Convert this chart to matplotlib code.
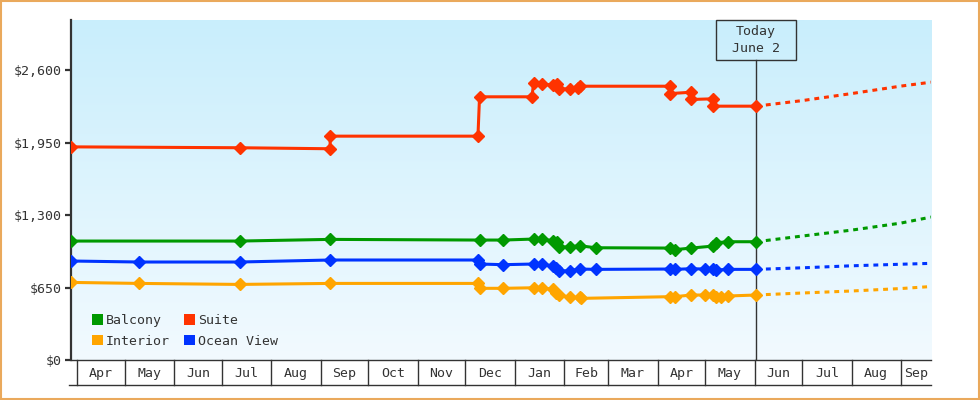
import matplotlib
matplotlib.use("Agg")
import matplotlib.pyplot as plt
import matplotlib.dates as mdates
from matplotlib.colors import LinearSegmentedColormap
from matplotlib.patches import Patch, Rectangle
import numpy as np
import pandas as pd

plt.rcParams['font.family'] = ['DejaVu Sans Mono']
plt.rcParams['font.size'] = 9.5
txt = '#333333'

# price history, one list of dates and prices per cabin type
suite_dates = ['2022-03-28', '2022-07-12', '2022-09-07', '2022-09-07', '2022-12-09', '2022-12-10',
               '2023-01-12', '2023-01-13', '2023-01-18', '2023-01-25', '2023-01-28', '2023-01-29',
               '2023-02-05', '2023-02-10', '2023-02-11', '2023-04-09', '2023-04-09', '2023-04-22',
               '2023-04-22', '2023-05-06', '2023-05-06', '2023-06-02']
suite_prices = [1912, 1904, 1895, 2008, 2008, 2361,
                2361, 2486, 2474, 2468, 2474, 2432,
                2432, 2438, 2456, 2456, 2390, 2402,
                2337, 2343, 2277, 2277]

balcony_dates = ['2022-03-28', '2022-07-12', '2022-09-07', '2022-12-10', '2022-12-25', '2023-01-13',
                 '2023-01-18', '2023-01-25', '2023-01-28', '2023-01-29', '2023-02-05', '2023-02-11',
                 '2023-02-21', '2023-04-09', '2023-04-12', '2023-04-22', '2023-05-06', '2023-05-08',
                 '2023-05-15', '2023-06-02']
balcony_prices = [1067, 1067, 1082, 1076, 1076, 1085,
                  1085, 1070, 1061, 1011, 1016, 1025,
                  1007, 1004, 990, 1004, 1022, 1052,
                  1061, 1061]

ocean_dates = ['2022-03-28', '2022-05-10', '2022-07-12', '2022-09-07', '2022-12-09', '2022-12-10',
               '2022-12-25', '2023-01-13', '2023-01-18', '2023-01-25', '2023-01-27', '2023-01-29',
               '2023-02-05', '2023-02-11', '2023-02-21', '2023-04-09', '2023-04-12', '2023-04-22',
               '2023-05-01', '2023-05-06', '2023-05-08', '2023-05-15', '2023-06-02']
ocean_prices = [888, 879, 879, 897, 897, 861,
                855, 861, 861, 843, 822, 798,
                801, 816, 813, 816, 813, 819,
                816, 816, 807, 813, 813]

interior_dates = ['2022-03-28', '2022-05-10', '2022-07-12', '2022-09-07', '2022-12-09', '2022-12-10',
                  '2022-12-25', '2023-01-13', '2023-01-18', '2023-01-25', '2023-01-27', '2023-01-29',
                  '2023-02-05', '2023-02-11', '2023-02-12', '2023-04-09', '2023-04-12', '2023-04-22',
                  '2023-05-01', '2023-05-06', '2023-05-08', '2023-05-11', '2023-05-15', '2023-06-02']
interior_prices = [696, 687, 678, 687, 687, 643,
                   643, 648, 648, 634, 598, 583,
                   562, 562, 553, 568, 568, 583,
                   583, 583, 568, 562, 574, 583]

# forecast after today
fc_dates = ['2023-06-02', '2023-07-01', '2023-08-01', '2023-09-01', '2023-09-20']
suite_fc = [2277, 2327, 2390, 2457, 2492]
balcony_fc = [1061, 1112, 1165, 1228, 1282]
ocean_fc = [813, 827, 845, 859, 867]
interior_fc = [583, 601, 619, 641, 659]

months = pd.date_range('2022-04-01', '2023-09-01', freq='MS')
month_labels = [m.strftime('%b') for m in months]
yticks = [0, 650, 1300, 1950, 2600]
today = pd.Timestamp('2023-06-02')
x_start, x_end = pd.Timestamp('2022-03-28'), pd.Timestamp('2023-09-20')

series = [
    ('Balcony', balcony_dates, balcony_prices, balcony_fc, '#009900'),
    ('Interior', interior_dates, interior_prices, interior_fc, '#ffa500'),
    ('Suite', suite_dates, suite_prices, suite_fc, '#ff3300'),
    ('Ocean View', ocean_dates, ocean_prices, ocean_fc, '#0033ff'),
]

fig = plt.figure(figsize=(9.8, 4), dpi=100)
ax = fig.add_axes([71 / 980, 40 / 400, 860 / 980, 340 / 400])

grad = LinearSegmentedColormap.from_list('bg', ['#f2faff', '#c9eefc'])
ax.imshow(np.linspace(0, 1, 256).reshape(-1, 1)[::-1], cmap=grad, extent=[0, 1, 0, 1],
          transform=ax.transAxes, aspect='auto', zorder=0)

handles = []
for name, d, p, fc, col in series:
    ax.plot(pd.to_datetime(d), p, color=col, lw=2.2, marker='D', ms=6.3, zorder=3)
    ax.plot(pd.to_datetime(fc_dates), fc, color=col, lw=2.2, ls=(0, (1.6, 1.6)), zorder=3)
    handles.append(Patch(facecolor=col, edgecolor='none', label=name))

ax.set_xlim(x_start, x_end)
ax.set_ylim(0, 3050)

# today marker
ax.axvline(today, ymin=0, ymax=0.882, color='#333333', lw=1, zorder=2)
fx = (mdates.date2num(today) - mdates.date2num(x_start)) / (mdates.date2num(x_end) - mdates.date2num(x_start))
ax.add_patch(Rectangle((fx - 40 / 860, 0.882), 80 / 860, 0.118, transform=ax.transAxes,
                       facecolor='none', edgecolor='#333333', lw=1, clip_on=False, zorder=4))
ax.text(fx, 0.941, 'Today\nJune 2', transform=ax.transAxes, ha='center', va='center',
        color=txt, linespacing=1.35, zorder=5)

# axes styling
for s in ['top', 'right']:
    ax.spines[s].set_visible(False)
ax.spines['left'].set_color('#333333')
ax.spines['left'].set_linewidth(1.6)
ax.spines['bottom'].set_color('#333333')
ax.spines['bottom'].set_linewidth(1)
ax.set_yticks(yticks)
ax.set_yticklabels(['$0' if v == 0 else '${:,}'.format(v) for v in yticks])
ax.tick_params(axis='y', length=4, width=1.6, color='#333333', labelcolor=txt, pad=3)
ax.set_xticks([])

# month boxes under the axis
trans = ax.get_xaxis_transform()
yb = -25 / 340
for m in months:
    ax.plot([m, m], [0, yb], transform=trans, color='#333333', lw=1, clip_on=False)
ax.plot([x_start - pd.Timedelta(days=1), x_end], [yb, yb], transform=trans, color='#333333', lw=1, clip_on=False)
for i, m in enumerate(months):
    nxt = months[i + 1] if i + 1 < len(months) else x_end
    mid = m + (nxt - m) / 2
    ax.text(mid, yb / 2 - 0.004, month_labels[i], transform=trans, ha='center', va='center', color=txt)

leg = ax.legend(handles=handles, ncol=2, loc='lower left', bbox_to_anchor=(0.024, 0.036),
                frameon=False, handlelength=0.85, handleheight=0.85, handletextpad=0.2,
                columnspacing=1.1, labelspacing=0.6, borderpad=0, borderaxespad=0)
for t in leg.get_texts():
    t.set_color(txt)

fig.patches.append(Rectangle((0.001, 0.0013), 0.998, 0.9974, transform=fig.transFigure,
                             fill=False, edgecolor='#eaa95c', lw=1.5))

fig.savefig('out.png', dpi=100)
